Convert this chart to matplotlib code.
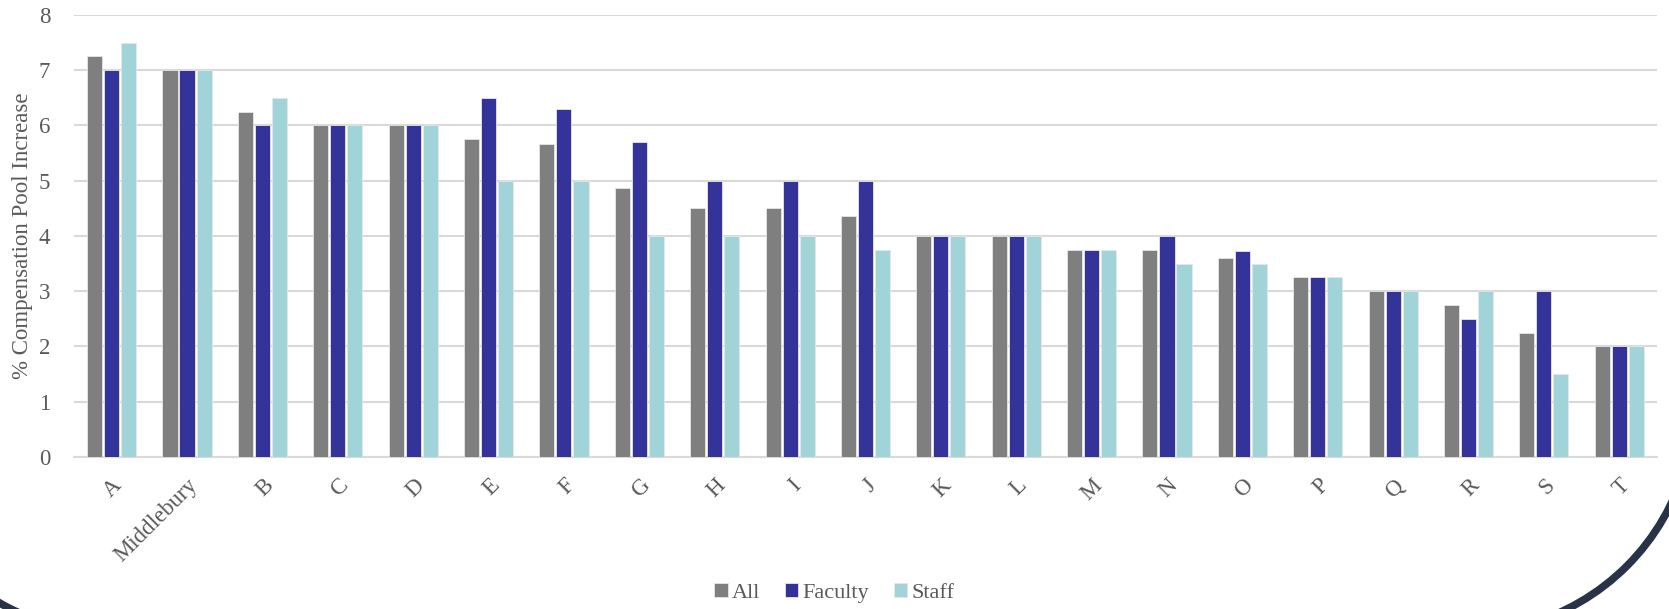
import matplotlib
matplotlib.use("Agg")
import matplotlib.pyplot as plt
import numpy as np
from matplotlib.patches import Arc

plt.rcParams["font.family"] = ["Liberation Serif", "DejaVu Serif"]

schools = ["A", "Middlebury", "B", "C", "D", "E", "F", "G", "H", "I", "J",
           "K", "L", "M", "N", "O", "P", "Q", "R", "S", "T"]
all_pool = [7.25, 7.0, 6.25, 6.0, 6.0, 5.75, 5.67, 4.87, 4.5, 4.5, 4.37,
            4.0, 4.0, 3.75, 3.75, 3.6, 3.25, 3.0, 2.75, 2.25, 2.0]
faculty_pool = [7.0, 7.0, 6.0, 6.0, 6.0, 6.5, 6.29, 5.71, 5.0, 5.0, 5.0,
                4.0, 4.0, 3.75, 4.0, 3.72, 3.25, 3.0, 2.5, 3.0, 2.0]
staff_pool = [7.5, 7.0, 6.5, 6.0, 6.0, 5.0, 5.0, 4.0, 4.0, 4.0, 3.75,
              4.0, 4.0, 3.75, 3.5, 3.5, 3.25, 3.0, 3.0, 1.5, 2.0]

series = [("All", all_pool, "#7f7f7f"),
          ("Faculty", faculty_pool, "#333399"),
          ("Staff", staff_pool, "#a0d4d9")]

TXT = "#595959"
GRID = "#d9d9d9"

fig = plt.figure(figsize=(16.69, 6.09), dpi=100)
ax = fig.add_axes([0.0443, 0.2496, 0.9485, 0.7258])

x = np.arange(len(schools))
pitch, width = 0.226, 0.2
for i, (name, vals, col) in enumerate(series):
    ax.bar(x + (i - 1) * pitch, vals, width=width, color=col, label=name,
           edgecolor="#e6e6e6", linewidth=0.6, zorder=3)

ax.set_xlim(-0.5, len(schools) - 0.5)
ax.set_ylim(0, 8)
ax.set_yticks(range(0, 9))
ax.yaxis.grid(True, color=GRID, linewidth=1.5, zorder=0)
ax.set_axisbelow(True)
for s in ("top", "right", "left"):
    ax.spines[s].set_visible(False)
ax.spines["bottom"].set_color(GRID)
ax.spines["bottom"].set_linewidth(1.5)
ax.tick_params(axis="both", length=0, colors=TXT, labelsize=16.5)
ax.tick_params(axis="y", pad=17)
ax.tick_params(axis="x", pad=13)
ax.set_xticks(x)
ax.set_xticklabels(schools, rotation=45, ha="right", rotation_mode="anchor")
ax.set_ylabel("% Compensation Pool Increase", color=TXT, fontsize=16.5, labelpad=4)

fig.legend(loc="center", bbox_to_anchor=(0.5, 0.027), ncol=3, frameon=False,
           fontsize=16, handlelength=0.6, handleheight=0.6, handletextpad=0.2,
           columnspacing=1.1, labelcolor=TXT)

# corners of the slide frame
for cx, t1, t2 in ((1465, -75, -15), (113, 230, 255)):
    fig.patches.append(Arc((cx, 205), 458, 458, theta1=t1, theta2=t2,
                           transform=None, color="#283347", lw=5.5))

fig.savefig("out.png", dpi=100, facecolor="white")
